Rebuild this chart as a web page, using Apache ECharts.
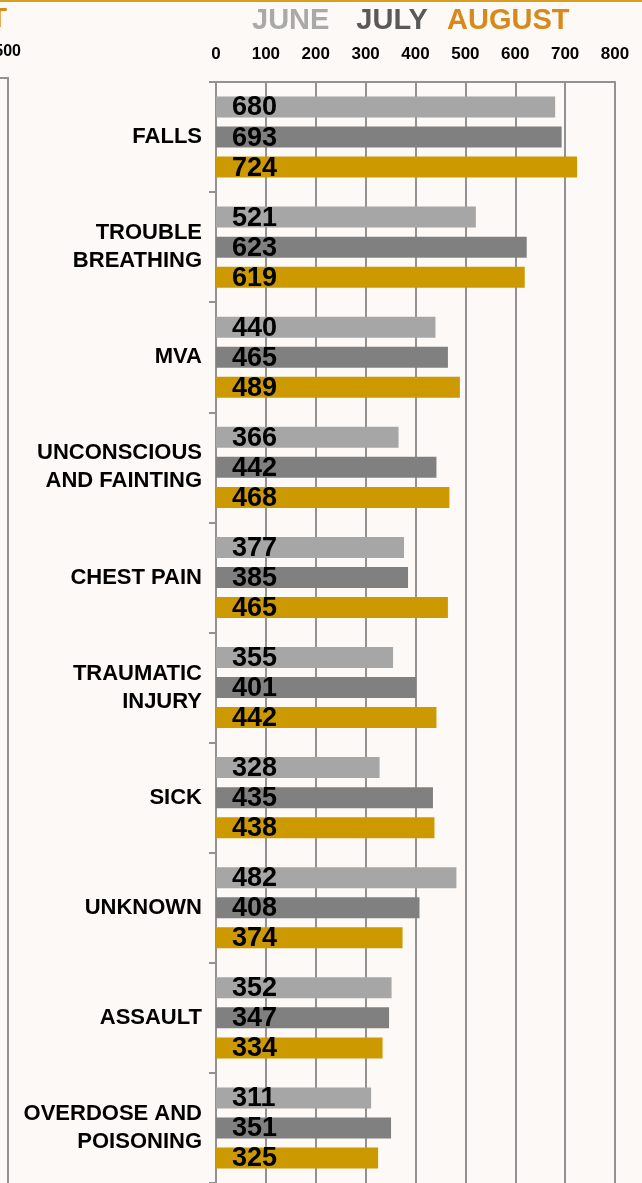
<!DOCTYPE html>
<html>
<head>
<meta charset="utf-8">
<script src="https://cdn.jsdelivr.net/npm/echarts@6/dist/echarts.min.js"></script>
<style>
html,body{margin:0;padding:0;background:#fcf9f6;}
#chart{width:642px;height:1183px;}
</style>
</head>
<body>
<div id="chart"></div>
<script>
const categories = ['FALLS', 'TROUBLE\nBREATHING', 'MVA', 'UNCONSCIOUS\nAND FAINTING', 'CHEST PAIN', 'TRAUMATIC\nINJURY', 'SICK', 'UNKNOWN', 'ASSAULT', 'OVERDOSE AND\nPOISONING'];
const june = [680, 521, 440, 366, 377, 355, 328, 482, 352, 311];
const july = [693, 623, 465, 442, 385, 401, 435, 408, 347, 351];
const august = [724, 619, 489, 468, 465, 442, 438, 374, 334, 325];
const xTicks = { min: 0, max: 800, interval: 100 };

const chart = echarts.init(document.getElementById('chart'));
const font = '"Liberation Sans", Arial, sans-serif';
const labelStyle = {
  show: true, position: 'insideLeft', distance: 16, offset: [0, 1],
  color: '#000', fontWeight: 'bold', fontSize: 27, fontFamily: font
};
function barSeries(name, data, color) {
  return {
    name: name, type: 'bar', data: data, barWidth: 21, barGap: '43%',
    itemStyle: { color: color },
    label: labelStyle
  };
}
const legendCommon = {
  top: 1, itemWidth: 0, itemHeight: 0, itemGap: 22,
  textStyle: { fontSize: 29, fontWeight: 'bold', fontFamily: font }
};
chart.setOption({
  backgroundColor: '#fcf9f6',
  animation: false,
  legend: [
    Object.assign({}, legendCommon, {
      left: 242,
      data: [
        { name: 'JUNE', textStyle: { color: '#a9a9a9' } },
        { name: 'JULY', textStyle: { color: '#595959' } }
      ]
    }),
    Object.assign({}, legendCommon, {
      left: 437,
      data: [ { name: 'AUGUST', textStyle: { color: '#d7891a' } } ]
    })
  ],
  grid: { left: 216, top: 82, width: 399, height: 1110 },
  xAxis: {
    type: 'value', position: 'top', min: xTicks.min, max: xTicks.max, interval: xTicks.interval,
    axisLine: { show: true, lineStyle: { color: '#929292', width: 2 } },
    axisTick: { show: false },
    splitLine: { show: true, lineStyle: { color: '#929292', width: 2 } },
    axisLabel: { color: '#000', fontWeight: 'bold', fontSize: 17, fontFamily: font, margin: 19 }
  },
  yAxis: {
    type: 'category', inverse: true, data: categories,
    axisLine: { show: true, lineStyle: { color: '#929292', width: 2 } },
    axisTick: { show: true, length: 7, inside: false, lineStyle: { color: '#929292', width: 2 } },
    axisLabel: { color: '#000', fontWeight: 'bold', fontSize: 22, fontFamily: font, margin: 14, lineHeight: 28, align: 'right', padding: [5, 0, 0, 0] }
  },
  series: [
    barSeries('JUNE', june, '#a6a6a6'),
    barSeries('JULY', july, '#808080'),
    barSeries('AUGUST', august, '#cc9900')
  ],
  graphic: [
    { type: 'rect', shape: { x: 0, y: 0, width: 642, height: 2 }, style: { fill: '#d8a020' }, silent: true },
    { type: 'polyline', shape: { points: [[0, 78], [8, 78], [8, 1183]] }, style: { stroke: '#929292', lineWidth: 2, fill: null }, silent: true },
    { type: 'text', style: { text: 'T', x: 7, y: 20, textAlign: 'right', textVerticalAlign: 'middle', fill: '#d7891a', font: 'bold 27px ' + font }, silent: true },
    { type: 'text', style: { text: '500', x: 21, y: 52, textAlign: 'right', textVerticalAlign: 'middle', fill: '#000', font: 'bold 16px ' + font }, silent: true }
  ]
});
</script>
</body>
</html>
